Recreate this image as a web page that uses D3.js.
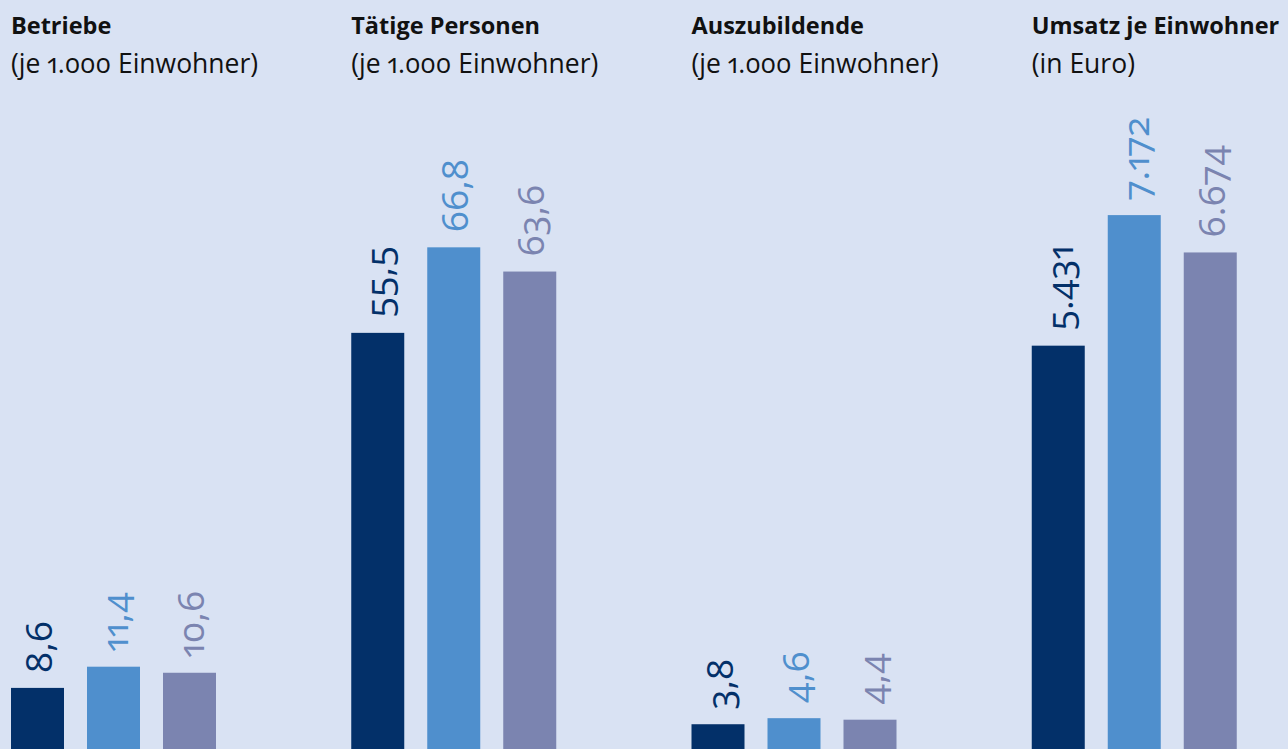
<!DOCTYPE html>
<html lang="de">
<head>
<meta charset="utf-8">
<script src="https://cdn.jsdelivr.net/npm/d3@7/dist/d3.min.js"></script>
<style>
  html, body { margin: 0; padding: 0; background: #d9e2f3; overflow: hidden; }
  svg { display: block; }
  text { font-family: "Open Sans", "Noto Sans", sans-serif; font-variant-numeric: oldstyle-nums proportional-nums; font-feature-settings: "onum" 1, "pnum" 1; }
</style>
</head>
<body>
<svg id="chart" width="1288" height="749"></svg>
<script>
// ---- data ----
const categories = ["Betriebe", "Tätige Personen", "Auszubildende", "Umsatz je Einwohner"];
const subtitles = ["(je 1.000 Einwohner)", "(je 1.000 Einwohner)", "(je 1.000 Einwohner)", "(in Euro)"];
const units = ["count", "count", "count", "euro"];
const seriesNames = ["Serie 1", "Serie 2", "Serie 3"];
const series1 = [8.6, 55.5, 3.8, 5431];
const series2 = [11.4, 66.8, 4.6, 7172];
const series3 = [10.6, 63.6, 4.4, 6674];
const seriesValues = [series1, series2, series3];

// ---- styles ----
const colors = ["#033069", "#4f8fcd", "#7b84b0"];
const svg = d3.select("#chart");

const de = d3.formatLocale({ decimal: ",", thousands: ".", grouping: [3], currency: ["", " €"] });
const fmtCount = de.format(",.1f");
const fmtEuro = de.format(",.0f");

// panel scale
const x0 = d3.scaleBand().domain(categories).range([11, 1372]).paddingInner(0).paddingOuter(0);
const x1 = d3.scaleBand().domain(seriesNames).range([0, 205]).paddingInner(23 / 76).paddingOuter(0);

const baseY = 753;
const yScales = {
  count: d3.scaleLinear().domain([0, 100]).range([baseY, baseY - 757]),
  euro: d3.scaleLinear().domain([0, 10000]).range([baseY, baseY - 750])
};

const data = categories.map((c, i) => ({
  category: c,
  subtitle: subtitles[i],
  unit: units[i],
  bars: seriesNames.map((s, j) => ({ series: s, idx: j, value: seriesValues[j][i], unit: units[i] }))
}));

const panel = svg.selectAll("g.panel").data(data).join("g")
  .attr("class", "panel")
  .attr("transform", d => `translate(${x0(d.category)},0)`);

panel.append("text")
  .attr("x", 0).attr("y", 34)
  .attr("font-size", 23.5).attr("font-weight", 700).attr("fill", "#111")
  .text(d => d.category);

panel.append("text")
  .attr("x", 0).attr("y", 73)
  .attr("font-size", 26.5).attr("font-weight", 400).attr("fill", "#111")
  .text(d => d.subtitle);

const bar = panel.selectAll("g.bar").data(d => d.bars).join("g").attr("class", "bar");

bar.append("rect")
  .attr("x", d => x1(d.series))
  .attr("width", x1.bandwidth())
  .attr("y", d => yScales[d.unit](d.value))
  .attr("height", d => baseY - yScales[d.unit](d.value))
  .attr("fill", d => colors[d.idx]);

bar.append("text")
  .attr("transform", d => {
    const cx = x1(d.series) + x1.bandwidth() / 2 + 14.5;
    const ty = yScales[d.unit](d.value) - 15;
    return `translate(${cx},${ty}) rotate(-90)`;
  })
  .attr("text-anchor", "start")
  .attr("font-size", 37)
  .attr("font-weight", d => d.idx === 0 ? 500 : 400)
  .attr("fill", d => colors[d.idx])
  .text(d => d.unit === "euro" ? fmtEuro(d.value) : fmtCount(d.value));
</script>
</body>
</html>
